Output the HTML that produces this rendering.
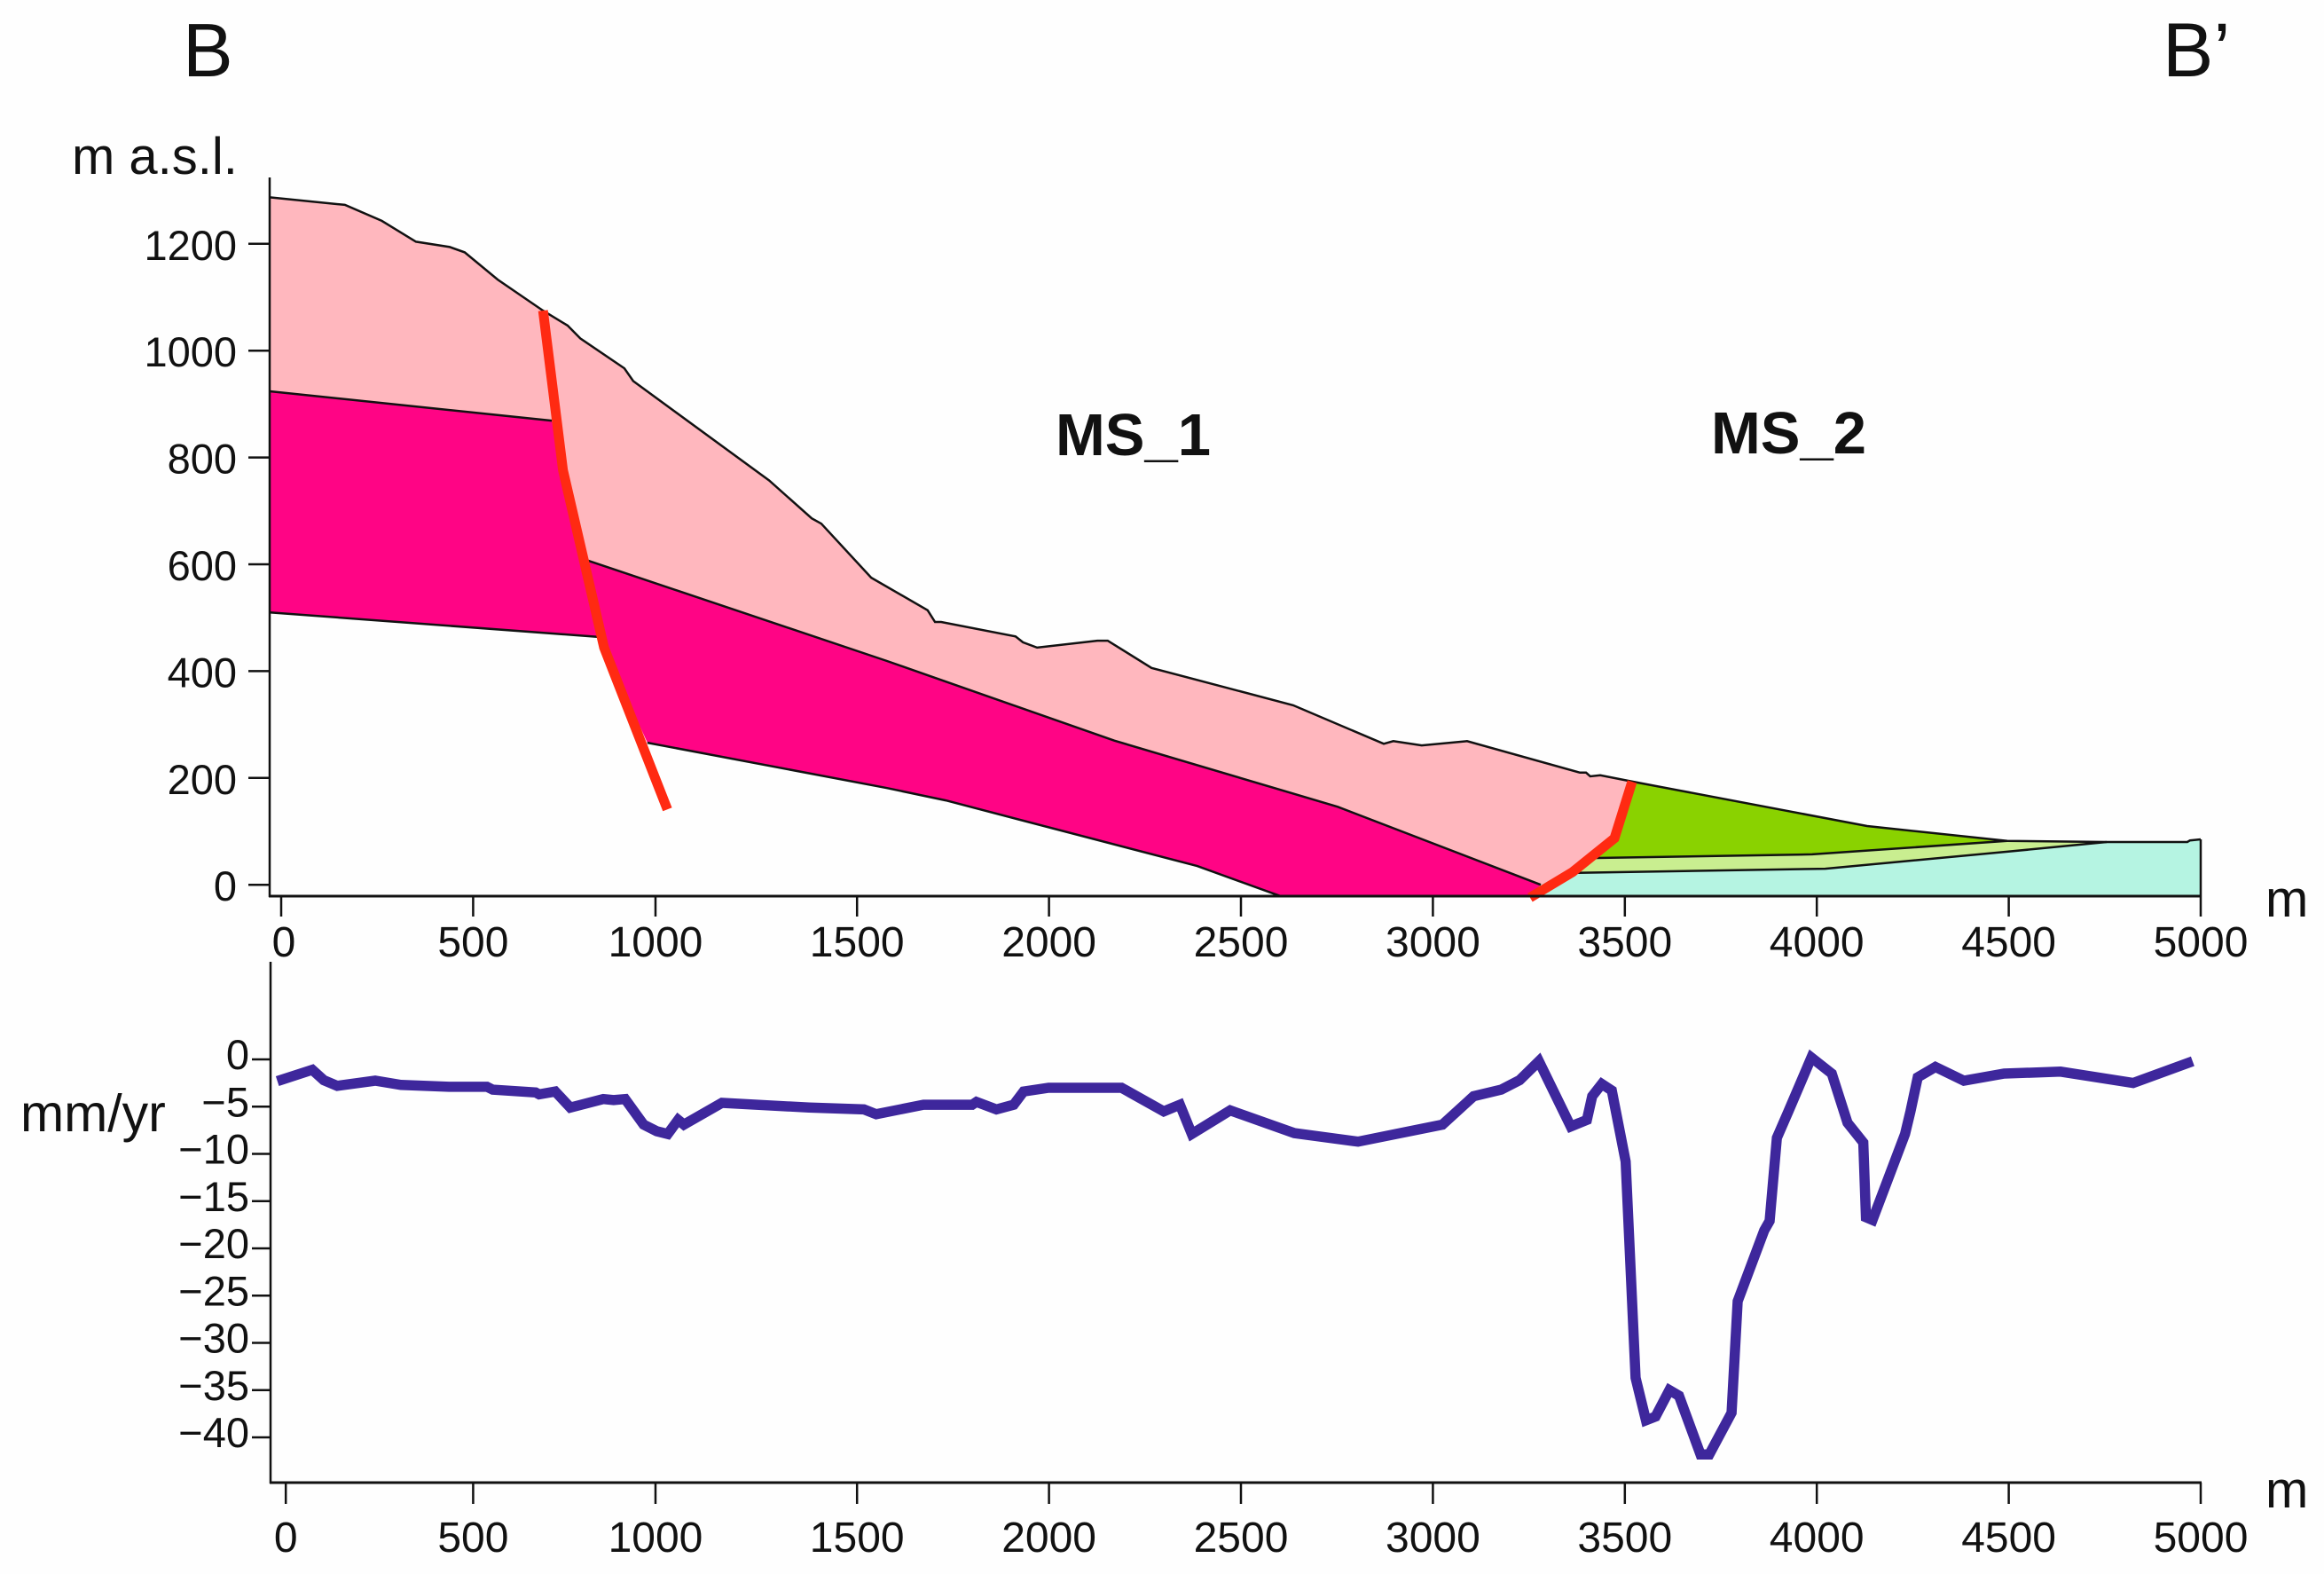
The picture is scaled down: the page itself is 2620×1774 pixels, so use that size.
<!DOCTYPE html>
<html lang="en">
<head>
<meta charset="utf-8">
<title>Cross-section B-B' and displacement rate profile</title>
<style>
html,body{margin:0;padding:0;background:#fefefe;}
svg{display:block;}
text{font-family:"Liberation Sans",sans-serif;fill:#111;}
</style>
</head>
<body>
<svg id="chart" xmlns="http://www.w3.org/2000/svg" width="2620" height="1774" viewBox="0 0 2620 1774">
  <rect x="0" y="0" width="2620" height="1774" fill="#fefefe"/>
  <g id="marks"></g>
  <text x="206" y="86" font-size="85">B</text>
  <text x="2438" y="86" font-size="86">B’</text>
  <text x="81" y="196" font-size="58">m a.s.l.</text>
  <text x="23" y="1275" font-size="59">mm/yr</text>
  <text x="1190" y="513" font-size="67" font-weight="bold">MS_1</text>
  <text x="1929" y="511" font-size="67" font-weight="bold">MS_2</text>
  <text x="2554" y="1033" font-size="58">m</text>
  <text x="2554" y="1699" font-size="58">m</text>
</svg>
<script>
// Distance ticks
const topXTicks = [0, 500, 975, 1500, 2000, 2500, 3000, 3500, 4000, 4500, 5000];
const bottomXTicks = [12, 500, 975, 1500, 2000, 2500, 3000, 3500, 4000, 4500, 5000];
const xTickLabels = ['0', '500', '1000', '1500', '2000', '2500', '3000', '3500', '4000', '4500', '5000'];
// Elevation ticks
const elevationTicks = [0, 200, 400, 600, 800, 1000, 1200];
// Rate ticks
const rateTicks = [0, -5, -10, -15, -20, -25, -30, -35, -40];
const rateTickLabels = ['0', '−5', '−10', '−15', '−20', '−25', '−30', '−35', '−40'];

// Ground surface [distance m, elevation m]
const terrain = [[-30,1287],[166,1273],[262,1243],[351,1204],[439,1194],[478,1184],[564,1133],[682,1075],[746,1047],[779,1023],[894,967],[917,943],[1271,757],[1382,686],[1407,676],[1537,575],[1684,514],[1703,492],[1719,492],[1913,465],[1932,454],[1969,444],[2126,457],[2153,457],[2267,406],[2636,336],[2872,264],[2897,269],[2971,261],[3089,269],[3383,210],[3399,210],[3410,203],[3436,205],[3521,193],[4131,110],[4496,82],[4755,80],[4965,80],[4972,83],[5000,85]];
// Geological contacts
const upperContactWest = [[-30,924],[705,869]];
const lowerContactWest = [[-30,510],[827,464]];
const upperContactEast = [[799,607],[1578,419],[2170,270],[2752,146],[3281,0]];
const lowerContactEast = [[954,266],[1578,181],[1731,158],[2386,35],[2602,-21]];
const depositUpperContact = [[3409,50],[3988,57],[4496,82]];
const depositLowerContact = [[3345,22],[4022,30],[4496,62],[4755,80]];
// Faults
const faultWest = [[682,1075],[734,776],[841,444],[1006,141]];
const faultEast = [[3253,-24],[3318,4],[3364,24],[3473,87],[3519,193]];
// Rate series
const rateDistance = [-10,81,111,146,245,312,437,536,551,663,672,714,753,839,866,896,944,978,1007,1034,1049,1148,1375,1518,1550,1673,1800,1811,1863,1908,1934,1999,2189,2299,2341,2372,2472,2639,2805,3025,3106,3178,3226,3276,3359,3401,3415,3440,3466,3502,3528,3555,3580,3616,3641,3697,3720,3778,3794,3863,3877,3896,3926,3986,4039,4080,4121,4128,4145,4230,4244,4263,4309,4383,4488,4635,4824,4979];
const rateValues = [-2.3,-1.1,-2.2,-2.8,-2.25,-2.7,-2.9,-2.9,-3.2,-3.5,-3.7,-3.4,-5.1,-4.2,-4.3,-4.2,-6.9,-7.6,-7.9,-6.4,-6.9,-4.6,-5.1,-5.3,-5.8,-4.8,-4.8,-4.5,-5.3,-4.8,-3.4,-3.0,-3.0,-5.5,-4.8,-7.9,-5.4,-7.8,-8.7,-6.9,-3.9,-3.2,-2.2,-0.2,-7.1,-6.4,-3.9,-2.6,-3.3,-10.8,-33.7,-38.2,-37.8,-35.0,-35.6,-41.8,-41.8,-37.4,-25.6,-18.1,-17.1,-8.3,-5.5,0.2,-1.5,-6.7,-8.8,-16.7,-17.0,-7.9,-5.5,-1.9,-0.8,-2.25,-1.5,-1.3,-2.5,-0.2];

const SVGNS = 'http://www.w3.org/2000/svg';
const marks = document.getElementById('marks');
function xScale(v){ return 317 + 0.4328 * v; }
function elevScale(v){ return 997.2 - 0.602 * v; }
function rateScale(v){ return 1194 - 10.65 * v; }
function make(tag, attrs){
  const el = document.createElementNS(SVGNS, tag);
  for (const k in attrs) el.setAttribute(k, attrs[k]);
  marks.appendChild(el);
  return el;
}
function geoPoints(list){
  return list.map(function(p){ return xScale(p[0]).toFixed(1) + ',' + elevScale(p[1]).toFixed(1); }).join(' ');
}
function area(list, fill, name){
  const el = make('polygon', {points: geoPoints(list), fill: fill});
  
  
}
function contact(list, name, width){
  const el = make('polyline', {points: geoPoints(list), fill: 'none', stroke: '#111', 'stroke-width': width});
  
  
}
function rev(list){ return list.slice().reverse(); }

const base = -21;
const eastEnd = terrain.findIndex(function(p){ return p[0] === 3521; });
const terrainWest = terrain.slice(0, eastEnd + 1);
const terrainEast = terrain.slice(eastEnd);

area(terrainWest.concat(rev(faultEast).slice(1, 4), rev(upperContactEast), [[705,869]], rev(upperContactWest)), '#ffb7be', 'pink-unit');
area([[-30,924],[705,869],[734,776],[799,607]].concat(upperContactEast, [[3253,base]], rev(lowerContactEast), [[827,464],[-30,510]]), '#ff0485', 'magenta-unit');
area([[3281,0]].concat(depositLowerContact, [[4965,80],[5000,85],[5000,base],[3253,base]]), '#b5f4e2', 'teal-unit');
area(depositUpperContact.concat(rev(depositLowerContact)), '#c9ee90', 'light-green-unit');
area(terrainEast.slice(0, 3).concat(rev(depositUpperContact), faultEast.slice(3, 4)), '#8ad200', 'green-unit');

contact(terrain, 'ground-surface-line', 2.5);
contact(upperContactWest, 'upper-contact-west', 2.5);
contact(lowerContactWest, 'lower-contact-west', 2.5);
contact(upperContactEast, 'upper-contact-east', 2.5);
contact(lowerContactEast, 'lower-contact-east', 2.5);
contact(depositUpperContact, 'deposit-upper-contact', 2.5);
contact(depositLowerContact, 'deposit-lower-contact', 2.5);

const faultW = make('polyline', {points: geoPoints(faultWest), fill: 'none', stroke: '#ff2a12', 'stroke-width': 11});


const faultE = make('polyline', {points: geoPoints(faultEast), fill: 'none', stroke: '#ff2a12', 'stroke-width': 11});



function line(x1, y1, x2, y2, width){
  return make('line', {x1: x1, y1: y1, x2: x2, y2: y2, stroke: '#111', 'stroke-width': width});
}
function label(x, y, str, anchor, size){
  const el = make('text', {x: x, y: y, 'font-size': size, 'text-anchor': anchor});
  el.textContent = str;
  return el;
}

// Top panel axes
const topYAxis = line(304, 200, 304, 1011, 2.5);


const topXAxis = line(303, 1010, 2482, 1010, 3);


const rightEdge = line(xScale(5000), elevScale(85), xScale(5000), 1010, 2.5);



topXTicks.forEach(function(v, i){
  const t = line(xScale(v), 1010, xScale(v), 1033, 2.5);
  
  
  const l = label(xScale(v) + (i === 0 ? 3 : 0), 1078, xTickLabels[i], 'middle', 48);
  
  
});
elevationTicks.forEach(function(v){
  const t = line(280, elevScale(v), 304, elevScale(v), 2.5);
  
  
  const l = label(267, elevScale(v) + 18, String(v), 'end', 47);
  
  
});

// Bottom panel axes
const botYAxis = line(305, 1084, 305, 1672, 2.5);


const botXAxis = line(304, 1671, 2482, 1671, 3);



bottomXTicks.forEach(function(v, i){
  const t = line(xScale(v), 1671, xScale(v), 1695, 2.5);
  
  
  const l = label(xScale(v), 1749, xTickLabels[i], 'middle', 48);
  
  
});
rateTicks.forEach(function(v, i){
  const t = line(284, rateScale(v), 305, rateScale(v), 2.5);
  
  
  const l = label(281, rateScale(v) + 11, rateTickLabels[i], 'end', 47);
  
  
});

// Rate series
const ratePts = rateDistance.map(function(d, i){
  return xScale(d).toFixed(1) + ',' + rateScale(rateValues[i]).toFixed(1);
}).join(' ');
const rateLine = make('polyline', {points: ratePts, fill: 'none', stroke: '#3e279c', 'stroke-width': 11.5, 'stroke-linejoin': 'miter', 'stroke-miterlimit': 6});


</script>
</body>
</html>
